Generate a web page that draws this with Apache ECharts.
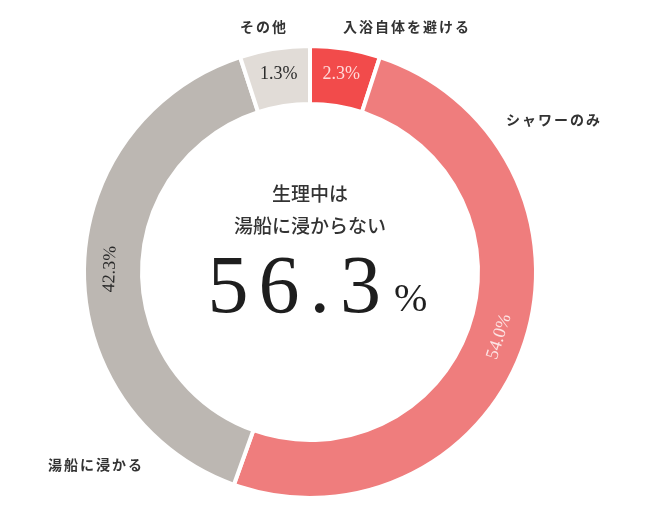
<!DOCTYPE html>
<html><head><meta charset="utf-8">
<script src="https://cdn.jsdelivr.net/npm/echarts@6/dist/echarts.min.js"></script>
<style>html,body{margin:0;padding:0;background:#fff}#c{width:650px;height:521px}</style>
</head><body><div id="c"></div>
<script>
// ---- data ----
const categories = ['入浴自体を避ける', 'シャワーのみ', '湯船に浸かる', 'その他'];
const values = [2.3, 54.0, 42.3, 1.3];
const headline = ['生理中は', '湯船に浸からない'];
const notBathingShare = (values[0] + values[1]).toFixed(1); // 56.3

// ---- styles ----
const colors = ['#f24b4b', '#ef7d7d', '#bcb7b2', '#e1dcd7'];
const labelColors = ['#ffd9d9', '#fde4e4', '#2b2b2b', '#2b2b2b'];
const labelRotate = [0, 72, 88, 0];
const namePos = [
  { x: 342, y: 27, align: 'left' },
  { x: 505, y: 120, align: 'left' },
  { x: 143, y: 465, align: 'right' },
  { x: 263, y: 27, align: 'center' }
];
const CX = 310, CY = 272, R0 = 168, R1 = 226;
const serif = '"Liberation Serif","DejaVu Serif",serif';
const jp = '"Noto Sans CJK JP","Noto Sans",sans-serif';

const chart = echarts.init(document.getElementById('c'), null, { renderer: 'canvas' });

const spaced = s => s.split('').map(c => '{c|' + c + '}').join('');
const bigTokens = notBathingShare.split('').map(c => '{n|' + c + '}').join('') + '{p|%}';

chart.setOption({
  backgroundColor: '#fff',
  animation: false,
  series: [
    {
      type: 'pie',
      center: [CX, CY],
      radius: [R0, R1],
      startAngle: 90,
      clockwise: true,
      minAngle: 18,
      avoidLabelOverlap: false,
      emphasis: { disabled: true },
      itemStyle: { borderColor: '#fff', borderWidth: 4 },
      label: { show: true, position: 'inside', fontFamily: serif, fontSize: 18 },
      labelLine: { show: false },
      data: values.map((v, i) => ({
        name: categories[i],
        value: v,
        itemStyle: { color: colors[i] },
        label: { color: labelColors[i], rotate: labelRotate[i], formatter: v.toFixed(1) + '%' }
      }))
    },
    {
      type: 'pie',
      center: [CX, CY],
      radius: [R0, R1],
      startAngle: 90,
      clockwise: true,
      minAngle: 18,
      silent: true,
      avoidLabelOverlap: false,
      emphasis: { disabled: true },
      itemStyle: { color: 'rgba(0,0,0,0)', borderWidth: 0 },
      label: {
        show: true, position: 'outside',
        formatter: p => spaced(p.name),
        rich: { c: { fontFamily: jp, fontSize: 14, fontWeight: 600, color: '#333', padding: [0, 1] } }
      },
      labelLine: { show: false },
      labelLayout: p => ({ x: namePos[p.dataIndex].x, y: namePos[p.dataIndex].y, align: namePos[p.dataIndex].align, verticalAlign: 'middle' }),
      data: values.map((v, i) => ({ name: categories[i], value: v }))
    }
  ],
  graphic: [
    { type: 'text', x: CX, y: 194, style: { text: headline[0], align: 'center', verticalAlign: 'middle', fontFamily: jp, fontSize: 19, fontWeight: 500, fill: '#333' } },
    { type: 'text', x: CX, y: 226, style: { text: headline[1], align: 'center', verticalAlign: 'middle', fontFamily: jp, fontSize: 19, fontWeight: 500, fill: '#333' } },
    { type: 'text', x: CX + 5, y: 290, style: {
        text: bigTokens, align: 'center', verticalAlign: 'middle', fill: '#1e1e1e',
        rich: {
          n: { fontFamily: serif, fontSize: 82, padding: [0, 5], fill: '#1e1e1e' },
          p: { fontFamily: serif, fontSize: 40, padding: [20, 0, 0, 8], fill: '#1e1e1e' }
        }
      } }
  ]
});
</script></body></html>
